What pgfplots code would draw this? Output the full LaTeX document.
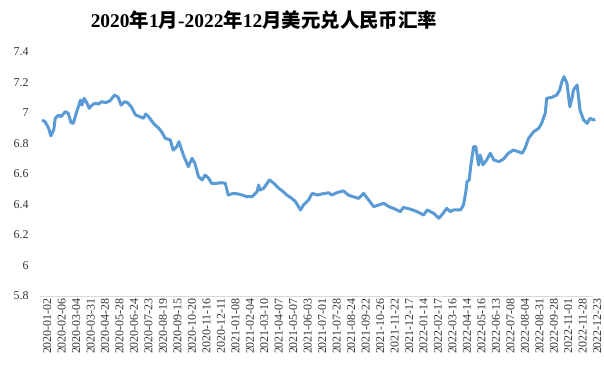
\documentclass[border=0pt]{standalone}
\usepackage{fontspec}
\setmainfont{Liberation Serif}
\newfontfamily\cjk{Noto Sans CJK SC}
\usepackage{pgfplots}
\pgfplotsset{compat=1.18}
\definecolor{lineblue}{HTML}{5B9BD5}
\begin{document}
\begin{tikzpicture}
\useasboundingbox (-40bp,-73bp) rectangle (564bp,296bp);
\begin{axis}[
  scale only axis,
  width=553bp, height=244bp,
  xmin=-3, xmax=761,
  ymin=5.8, ymax=7.4,
  ytick={5.8,6,6.2,6.4,6.6,6.8,7,7.2,7.4},
  yticklabels={5.8,6,6.2,6.4,6.6,6.8,7,7.2,7.4},
  xtick={0,20,...,760},
  xticklabels={2020-01-02,2020-02-06,2020-03-04,2020-03-31,2020-04-28,2020-05-28,2020-06-24,2020-07-23,2020-08-19,2020-09-15,2020-10-20,2020-11-16,2020-12-11,2021-01-08,2021-02-04,2021-03-10,2021-04-07,2021-05-07,2021-06-03,2021-07-01,2021-07-28,2021-08-24,2021-09-22,2021-10-26,2021-11-22,2021-12-17,2022-01-14,2022-02-17,2022-03-16,2022-04-14,2022-05-16,2022-06-13,2022-07-08,2022-08-04,2022-08-31,2022-09-28,2022-11-01,2022-11-28,2022-12-23},
  axis x line*=bottom, axis y line*=left,
  x axis line style={draw=black!15, line width=0.8bp, -},
  y axis line style={draw=none},
  major tick length=0pt,
  tick label style={font=\fontsize{12}{12}\selectfont, text=black!80},
  yticklabel style={anchor=east, xshift=-8bp},
  xticklabel style={rotate=90, anchor=east, yshift=-5bp, inner sep=2bp},
  clip=false,
]
\addplot[lineblue, line width=3bp, line join=round] table {
x y
0 6.954
4 6.943
9 6.900
12 6.850
16 6.890
18 6.965
23 6.987
26 6.976
32 7.009
36 6.998
40 6.936
43 6.932
47 6.998
50 7.041
53 7.085
55 7.052
58 7.096
62 7.064
65 7.031
69 7.052
73 7.064
78 7.059
82 7.074
88 7.068
94 7.081
100 7.118
105 7.103
109 7.052
114 7.074
118 7.068
123 7.041
129 6.987
135 6.976
140 6.965
143 6.993
147 6.976
152 6.943
156 6.921
161 6.900
165 6.877
170 6.834
177 6.823
181 6.757
186 6.779
189 6.812
195 6.725
202 6.648
207 6.703
211 6.670
216 6.582
221 6.561
225 6.593
230 6.572
234 6.539
241 6.539
248 6.543
253 6.539
257 6.462
264 6.473
271 6.469
276 6.462
283 6.451
290 6.451
297 6.484
299 6.528
301 6.495
306 6.506
314 6.561
320 6.539
327 6.506
333 6.484
338 6.462
345 6.440
350 6.418
357 6.364
361 6.397
368 6.430
373 6.473
380 6.462
386 6.469
396 6.477
400 6.462
407 6.477
416 6.490
423 6.462
430 6.451
437 6.440
444 6.473
451 6.430
458 6.386
465 6.397
472 6.408
479 6.386
485 6.375
495 6.353
499 6.381
509 6.369
518 6.353
527 6.331
532 6.364
541 6.342
548 6.310
552 6.331
559 6.375
564 6.353
568 6.364
578 6.364
582 6.397
585 6.473
587 6.550
590 6.561
592 6.648
596 6.779
599 6.779
603 6.659
605 6.725
609 6.660
614 6.692
619 6.736
624 6.692
631 6.681
637 6.696
644 6.736
651 6.757
658 6.746
663 6.736
667 6.768
672 6.834
679 6.877
686 6.900
690 6.932
695 6.998
697 7.096
704 7.103
711 7.118
715 7.151
718 7.205
721 7.238
725 7.195
729 7.041
732 7.096
734 7.151
739 7.184
741 7.107
743 7.020
748 6.954
753 6.932
757 6.965
762 6.954
764 6.958
};
\end{axis}
\node[font=\fontsize{19.5}{20}\selectfont\bfseries, anchor=center] at (224bp,276bp)
  {2020{\cjk 年}1{\cjk 月}-2022{\cjk 年}12{\cjk 月}{\cjk 美元兑人民币汇率}};
\end{tikzpicture}
\end{document}
